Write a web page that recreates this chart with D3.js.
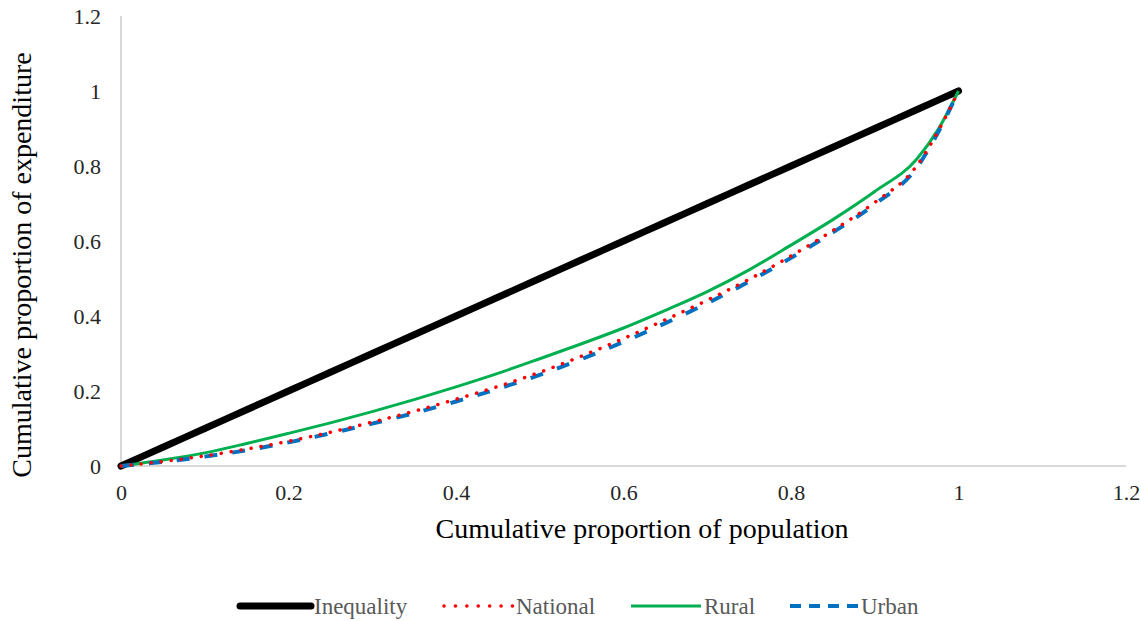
<!DOCTYPE html>
<html>
<head>
<meta charset="utf-8">
<script src="https://cdn.jsdelivr.net/npm/d3@7"></script>
<style>
  html, body { margin: 0; padding: 0; background: #ffffff; }
  svg { display: block; }
  .tick text { font-family: 'Liberation Serif', 'Times New Roman', serif !important; }
</style>
</head>
<body>
<svg id="chart" width="1141" height="621"></svg>
<script>
// ---- data ----
const popShare = [0, 0.05, 0.1, 0.15, 0.2, 0.25, 0.3, 0.35, 0.4, 0.45, 0.5, 0.55, 0.6, 0.65, 0.7, 0.75, 0.8, 0.85, 0.9, 0.95, 0.975, 1];
const inequality = [0, 0.05, 0.1, 0.15, 0.2, 0.25, 0.3, 0.35, 0.4, 0.45, 0.5, 0.55, 0.6, 0.65, 0.7, 0.75, 0.8, 0.85, 0.9, 0.95, 0.975, 1];
const national = [0, 0.012, 0.027, 0.045, 0.066, 0.09, 0.117, 0.146, 0.178, 0.212, 0.25, 0.293, 0.34, 0.39, 0.442, 0.498, 0.56, 0.628, 0.703, 0.8, 0.89, 1];
const rural = [0, 0.016, 0.035, 0.06, 0.087, 0.115, 0.145, 0.177, 0.211, 0.247, 0.286, 0.326, 0.368, 0.415, 0.465, 0.523, 0.589, 0.657, 0.732, 0.818, 0.895, 1];
const urban = [0, 0.011, 0.025, 0.042, 0.063, 0.087, 0.113, 0.141, 0.172, 0.206, 0.243, 0.285, 0.331, 0.381, 0.434, 0.492, 0.555, 0.623, 0.698, 0.795, 0.887, 1];
const xTicks = [0, 0.2, 0.4, 0.6, 0.8, 1, 1.2];
const yTicks = [0, 0.2, 0.4, 0.6, 0.8, 1, 1.2];
const seriesNames = ["Inequality", "National", "Rural", "Urban"];

const svg = d3.select("#chart");
const font = "'Liberation Serif', 'Times New Roman', serif";

const x = d3.scaleLinear().domain([0, 1.2]).range([121, 1126]);
const y = d3.scaleLinear().domain([0, 1.2]).range([466, 16]);

// axes lines
svg.append("line").attr("x1", x(0)).attr("x2", x(1.2)).attr("y1", y(0)).attr("y2", y(0))
  .attr("stroke", "#d9d9d9").attr("stroke-width", 2);
svg.append("line").attr("x1", x(0)).attr("x2", x(0)).attr("y1", y(0)).attr("y2", y(1.2))
  .attr("stroke", "#d9d9d9").attr("stroke-width", 2);

// tick labels via axes
const fmt = d => d3.format("~g")(d);
const xAxis = svg.append("g").attr("transform", `translate(0,${y(0)})`)
  .call(d3.axisBottom(x).tickValues(xTicks).tickFormat(fmt).tickSize(0).tickPadding(18));
xAxis.select(".domain").remove();
xAxis.attr("font-family", font).attr("font-size", 22);
xAxis.selectAll("text").attr("fill", "#262626");

const yAxis = svg.append("g").attr("transform", `translate(${x(0) - 20},0)`)
  .call(d3.axisLeft(y).tickValues(yTicks).tickFormat(fmt).tickSize(0).tickPadding(0));
yAxis.select(".domain").remove();
yAxis.attr("font-family", font).attr("font-size", 22);
yAxis.selectAll("text").attr("fill", "#262626");

// axis titles
svg.append("text").attr("x", 642).attr("y", 538).attr("text-anchor", "middle")
  .style("font-family", font).style("font-size", "28px").attr("fill", "#000")
  .text("Cumulative proportion of population");
svg.append("text").attr("transform", "translate(31,265) rotate(-90)").attr("text-anchor", "middle")
  .style("font-family", font).style("font-size", "28px").attr("fill", "#000")
  .text("Cumulative proportion of expenditure");

// lines
const styles = {
  "Inequality": { data: inequality, color: "#000000", width: 7, dash: null, cap: "round" },
  "National": { data: national, color: "#ff0000", width: 3.5, dash: "0.1,10", cap: "round" },
  "Rural": { data: rural, color: "#00b050", width: 3, dash: null, cap: "butt" },
  "Urban": { data: urban, color: "#0070c0", width: 4, dash: "13,15", cap: "butt" }
};
const drawOrder = ["Inequality", "Rural", "Urban", "National"];
const line = d3.line().x(d => x(d[0])).y(d => y(d[1])).curve(d3.curveMonotoneX);
drawOrder.forEach(name => {
  const s = styles[name];
  const pts = popShare.map((p, i) => [p, s.data[i]]);
  svg.append("path").datum(pts).attr("d", line)
    .attr("fill", "none").attr("stroke", s.color).attr("stroke-width", s.width)
    .attr("stroke-linecap", s.cap).attr("stroke-linejoin", "round")
    .attr("stroke-dasharray", s.dash);
});

// legend
const legendY = 606;
const legendItems = [
  { name: "Inequality", x0: 240, x1: 311, tx: 314, dash: null, width: 7, cap: "round" },
  { name: "National", x0: 444, x1: 513, tx: 516, dash: "0.1,11.3", width: 3.5, cap: "round" },
  { name: "Rural", x0: 631, x1: 701, tx: 704, dash: null, width: 3, cap: "butt" },
  { name: "Urban", x0: 790, x1: 859, tx: 861, dash: "11,8", width: 4, cap: "butt" }
];
legendItems.forEach(it => {
  const s = styles[it.name];
  svg.append("line").attr("x1", it.x0).attr("x2", it.x1).attr("y1", legendY).attr("y2", legendY)
    .attr("stroke", s.color).attr("stroke-width", it.width)
    .attr("stroke-linecap", it.cap).attr("stroke-dasharray", it.dash);
  svg.append("text").attr("x", it.tx).attr("y", legendY).attr("dy", "0.34em")
    .style("font-family", font).style("font-size", "23px").attr("fill", "#595959")
    .text(it.name);
});
</script>
</body>
</html>
